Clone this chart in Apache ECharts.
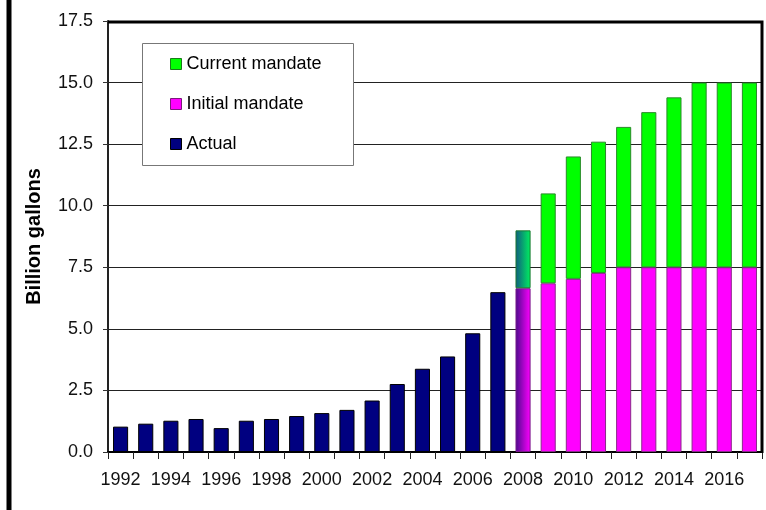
<!DOCTYPE html>
<html><head><meta charset="utf-8">
<script src="https://cdn.jsdelivr.net/npm/echarts@6/dist/echarts.min.js"></script>
<style>html,body{margin:0;padding:0;background:#fff}#c{width:766px;height:510px}</style>
</head><body><div id="c"></div>
<script>
const years = ['1992','1993','1994','1995','1996','1997','1998','1999','2000','2001','2002','2003','2004','2005','2006','2007','2008','2009','2010','2011','2012','2013','2014','2015','2016','2017'];
const actual = [1.03,1.15,1.27,1.34,0.97,1.27,1.34,1.46,1.58,1.71,2.09,2.76,3.38,3.88,4.82,6.49,null,null,null,null,null,null,null,null,null,null];
const initialMandate = [null,null,null,null,null,null,null,null,null,null,null,null,null,null,null,null,6.65,6.85,7.03,7.27,7.5,7.5,7.5,7.5,7.5,7.5];
const currentMandateTotal = [null,null,null,null,null,null,null,null,null,null,null,null,null,null,null,null,9.0,10.5,12.0,12.6,13.2,13.8,14.4,15.0,15.0,15.0];
const yTicks = ['0.0','2.5','5.0','7.5','10.0','12.5','15.0','17.5'];

const FONT = '"Liberation Sans", Arial, sans-serif';
const chart = echarts.init(document.getElementById('c'), null, {renderer: 'canvas'});

const grad = (c0, c1) => new echarts.graphic.LinearGradient(0, 0, 1, 0, [{offset: 0, color: c0}, {offset: 1, color: c1}]);
const specialYear = '2008';

const currentExtra = currentMandateTotal.map((t, i) =>
  (t == null || initialMandate[i] == null) ? null : +(t - initialMandate[i]).toFixed(3));

const initialData = initialMandate.map((v, i) => v == null ? '-' :
  (years[i] === specialYear ? {value: v, itemStyle: {color: grad('#4a0a8c', '#ff00ff'), borderColor: '#7a1a8a'}} : v));
const currentData = currentExtra.map((v, i) => v == null ? '-' :
  (years[i] === specialYear ? {value: v, itemStyle: {color: grad('#105a80', '#00f060'), borderColor: '#1a7a30'}} : v));
const actualData = actual.map(v => v == null ? '-' : v);

chart.setOption({
  animation: false,
  backgroundColor: '#fff',
  grid: {left: 108, right: 4, top: 21, bottom: 58},
  legend: {
    orient: 'vertical', left: 170, top: 55, padding: 0, itemGap: 22, itemWidth: 11, itemHeight: 11,
    icon: 'rect', z: 10,
    textStyle: {fontFamily: FONT, fontSize: 18, color: '#000'},
    data: [
      {name: 'Current mandate', itemStyle: {color: '#00ff00', borderColor: '#1a7a1a', borderWidth: 1}},
      {name: 'Initial mandate', itemStyle: {color: '#ff00ff', borderColor: '#7a1a7a', borderWidth: 1}},
      {name: 'Actual', itemStyle: {color: '#000080', borderColor: '#000', borderWidth: 1}}
    ]
  },
  xAxis: {
    type: 'category', data: years, boundaryGap: true,
    axisLine: {lineStyle: {color: '#000', width: 2}},
    axisTick: {show: true, interval: 0, length: 7, lineStyle: {color: '#222', width: 1}},
    axisLabel: {interval: 1, margin: 19, fontFamily: FONT, fontSize: 18, color: '#111'}
  },
  yAxis: {
    type: 'value', min: 0, max: 17.5, interval: 2.5,
    name: 'Billion gallons', nameLocation: 'middle', nameGap: 64, nameRotate: 90,
    nameTextStyle: {fontFamily: FONT, fontSize: 20, fontWeight: 'bold', color: '#000'},
    axisLine: {show: true, lineStyle: {color: '#222', width: 2}},
    axisTick: {show: true, length: 5, lineStyle: {color: '#333'}},
    axisLabel: {margin: 15, fontFamily: FONT, fontSize: 18, color: '#111',
      formatter: v => yTicks[Math.round(v / 2.5)] ?? v.toFixed(1)},
    splitLine: {lineStyle: {color: '#222', width: 1}}
  },
  graphic: [
    {type: 'rect', left: 142, top: 43, z: 5, shape: {width: 211, height: 122},
      style: {fill: '#fff', stroke: '#777', lineWidth: 1}},
    {type: 'polyline', z: 6, shape: {points: [[108, 22], [762, 22], [762, 453]]},
      style: {stroke: '#000', lineWidth: 3, fill: null}},
    {type: 'line', z: 6, shape: {x1: 9, y1: 0, x2: 9, y2: 510},
      style: {stroke: '#000', lineWidth: 5}}
  ],
  series: [
    {name: 'Actual', type: 'bar', stack: 's', barWidth: '60%', data: actualData,
      itemStyle: {color: '#000080', borderColor: '#000', borderWidth: 1}},
    {name: 'Initial mandate', type: 'bar', stack: 's', barWidth: '60%', data: initialData,
      itemStyle: {color: '#ff00ff', borderColor: '#8a2a8a', borderWidth: 1}},
    {name: 'Current mandate', type: 'bar', stack: 's', barWidth: '60%', data: currentData,
      itemStyle: {color: '#00ff00', borderColor: '#2a8a2a', borderWidth: 1}}
  ]
});
</script></body></html>
